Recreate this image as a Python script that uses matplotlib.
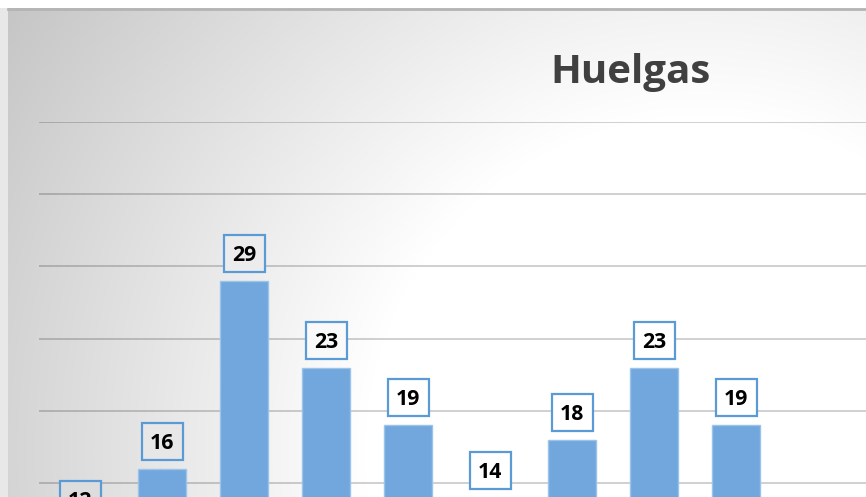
import numpy as np
import matplotlib.pyplot as plt
import matplotlib.transforms as mtransforms
from matplotlib.patches import Rectangle

# Huelgas - visible categories (chart is cropped on the right and bottom)
valores = [12, 16, 29, 23, 19, 14, 18, 23, 19]
n_cat = 15  # categories in the full plot area
titulo = "Huelgas"

W, H = 866, 497
fig = plt.figure(figsize=(W / 100, H / 100), dpi=100)


def fondo(px, py):
    # radial grey -> white gradient of the chart area
    d = np.hypot(px - 700, py - 450)
    return 1 - 0.000463 * np.clip(d - 335, 0, None)


bg = fig.add_axes([0, 0, 1, 1])
yy, xx = np.mgrid[0:H, 0:W]
g = fondo(xx, yy)
img = np.dstack([g, g, g])
img[:, :8] = 0.91
img[:8, :] = 1.0
bg.imshow(img, aspect="auto", extent=(0, W, H, 0), interpolation="bilinear")
bg.plot([8, W], [8.5, 8.5], color="#b4b4b4", lw=2)
bg.set_xlim(0, W)
bg.set_ylim(H, 0)
bg.axis("off")

# plot area: y=0 sits below the visible image, 40 at y=121 px
y0_px, y40_px = 700.5, 121.5
ax = fig.add_axes([39 / W, (H - y0_px) / H, n_cat * 82 / W, (y0_px - y40_px) / H])
ax.patch.set_alpha(0)
x = np.arange(len(valores))
ax.bar(x, valores, width=48 / 82, color="#71a7dc", edgecolor="#9cc4ea", linewidth=1, zorder=3)
ax.set_xlim(-0.5, n_cat - 0.5)
ax.set_ylim(0, 40)
ax.set_yticks(range(0, 45, 5))
ax.grid(axis="y", color="black", alpha=0.2, lw=1.3, zorder=0)
ax.tick_params(left=False, bottom=False, labelleft=False, labelbottom=False)
for s in ax.spines.values():
    s.set_visible(False)

# data labels: boxed, 41x37 px, bottom 9 px above the bar
ident = mtransforms.IdentityTransform()
bw, bh = 41, 37
for xi, v in zip(x, valores):
    px, py = ax.transData.transform((xi, v))
    cy = py + 9 + bh / 2
    c = fondo(px, H - cy)
    ax.add_patch(Rectangle((px - bw / 2, cy - bh / 2), bw, bh, transform=ident,
                           fc=(c, c, c), ec="#5b9bd5", lw=1.6, zorder=4, clip_on=False))
    ax.text(px, cy - 7.5, str(v), transform=ident, ha="center", va="baseline",
            fontsize=15.3, fontweight="bold", family="Open Sans", color="black",
            zorder=5, clip_on=False)

fig.text(630 / W, 1 - 83 / H, titulo, ha="center", va="baseline", fontsize=29,
         fontweight="bold", family="Open Sans", color="#404040")

fig.savefig("out.png", dpi=100)
